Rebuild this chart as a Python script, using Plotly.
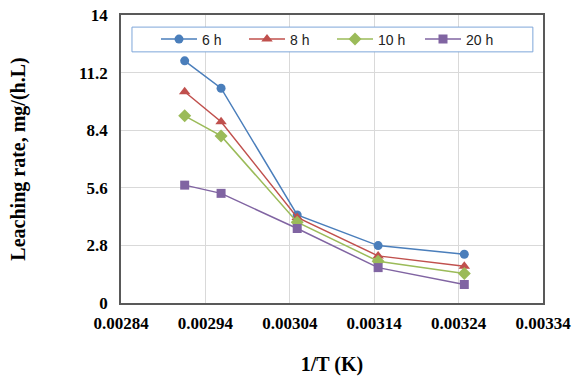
import plotly.graph_objects as go

inv_T = [1/343, 1/338, 1/328, 1/318, 1/308]
rate_6h = [11.77, 10.44, 4.28, 2.79, 2.37]
rate_8h = [10.27, 8.81, 4.16, 2.29, 1.79]
rate_10h = [9.10, 8.12, 3.93, 2.03, 1.43]
rate_20h = [5.73, 5.33, 3.62, 1.72, 0.90]
series_names = ["6 h", "8 h", "10 h", "20 h"]
y_ticks = [0, 2.8, 5.6, 8.4, 11.2, 14]
x_ticks = [0.00284, 0.00294, 0.00304, 0.00314, 0.00324, 0.00334]

colors = ["#4A7EBB", "#C0504D", "#9BBB59", "#8064A2"]
symbols = ["circle", "triangle-up", "diamond", "square"]
sizes = [9, 10, 10, 9]

fig = go.Figure()
for name, ys, c, s, sz in zip(series_names, [rate_6h, rate_8h, rate_10h, rate_20h], colors, symbols, sizes):
    fig.add_trace(go.Scatter(x=inv_T, y=ys, name=name, mode="lines+markers",
                             line=dict(color=c, width=1.5),
                             marker=dict(color=c, symbol=s, size=sz)))

serif = "Liberation Serif, Times New Roman, serif"
axis_font = dict(family=serif, size=17, color="black")
title_font = dict(family=serif, size=20, color="black")

# legend frame (wider than plotly's auto legend box)
fig.add_shape(type="rect", xref="paper", yref="paper", x0=0.026, x1=0.976, y0=0.872, y1=0.958,
              fillcolor="white", line=dict(color="#7EA6D9", width=1), layer="above")

fig.update_layout(
    width=576, height=376,
    margin=dict(l=121, r=33, t=15, b=73),
    paper_bgcolor="white", plot_bgcolor="white",
    showlegend=True,
    legend=dict(orientation="h", x=0.5, xanchor="center", y=0.915, yanchor="middle",
                bgcolor="rgba(0,0,0,0)", borderwidth=0,
                font=dict(family="Liberation Sans, Arial, sans-serif", size=14, color="#222"),
                entrywidth=37, itemwidth=36),
    xaxis=dict(range=[0.00284, 0.00334], tickvals=x_ticks,
               ticktext=["<b>%.5f</b>" % v for v in x_ticks],
               showgrid=True, gridcolor="#D9D9D9", gridwidth=1,
               showline=True, linecolor="#595959", linewidth=1.5, mirror=True,
               ticks="outside", ticklen=4, tickcolor="rgba(0,0,0,0)",
               tickfont=axis_font, zeroline=False, automargin=False,
               title=dict(text="<b>1/T (K)</b>", font=title_font, standoff=28)),
    yaxis=dict(range=[0, 14], tickvals=y_ticks,
               ticktext=["<b>%s</b>" % (str(v) if v not in (0, 14) else str(int(v))) for v in y_ticks],
               showgrid=True, gridcolor="#D9D9D9", gridwidth=1,
               showline=True, linecolor="#595959", linewidth=1.5, mirror=True,
               ticks="outside", ticklen=8, tickcolor="rgba(0,0,0,0)",
               tickfont=axis_font, zeroline=False, automargin=False,
               title=dict(text="<b>Leaching rate, mg/(h.L)</b>", font=title_font, standoff=48)),
)
fig.write_html("out.html")
